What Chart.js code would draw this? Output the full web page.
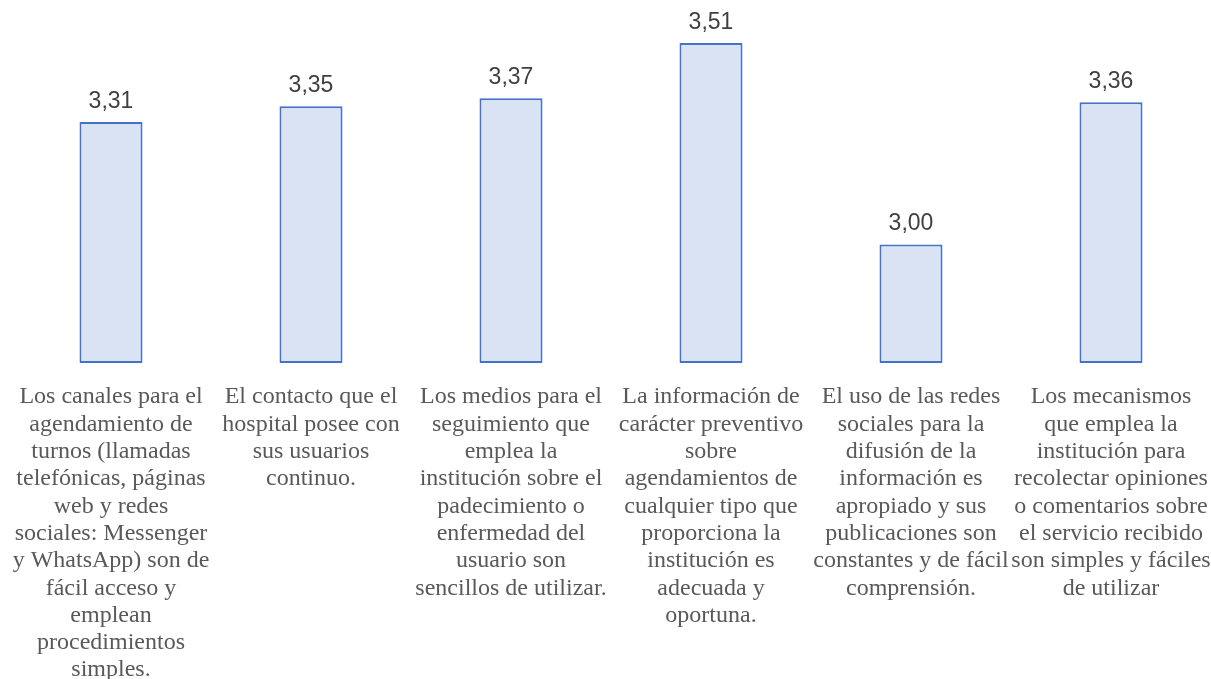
<!DOCTYPE html>
<html>
<head>
<meta charset="utf-8">
<script src="https://cdn.jsdelivr.net/npm/chart.js@4/dist/chart.umd.min.js"></script>
<style>
  html, body { margin: 0; padding: 0; background: #ffffff; }
  #wrap { width: 1211px; height: 679px; position: relative; }
</style>
</head>
<body>
<div id="wrap"><canvas id="chart"></canvas></div>
<script>
// Survey items (one wrapped label per bar)
const categories = [
  ["Los canales para el", "agendamiento de", "turnos (llamadas", "telefónicas, páginas", "web y redes", "sociales: Messenger", "y WhatsApp) son de", "fácil acceso y", "emplean", "procedimientos", "simples."],
  ["El contacto que el", "hospital posee con", "sus usuarios", "continuo."],
  ["Los medios para el", "seguimiento que", "emplea la", "institución sobre el", "padecimiento o", "enfermedad del", "usuario son", "sencillos de utilizar."],
  ["La información de", "carácter preventivo", "sobre", "agendamientos de", "cualquier tipo que", "proporciona la", "institución es", "adecuada y", "oportuna."],
  ["El uso de las redes", "sociales para la", "difusión de la", "información es", "apropiado y sus", "publicaciones son", "constantes y de fácil", "comprensión."],
  ["Los mecanismos", "que emplea la", "institución para", "recolectar opiniones", "o comentarios sobre", "el servicio recibido", "son simples y fáciles", "de utilizar"]
];

// Mean score per item
const scores = [3.31, 3.35, 3.37, 3.51, 3.00, 3.36];

// Value axis range (bars start at the axis minimum)
const axisMin = 2.7;
const axisMax = 3.6;

const formatScore = v => v.toFixed(2).replace('.', ',');

// Writes each bar's value above it
const valueLabels = {
  id: 'valueLabels',
  afterDatasetsDraw(chart) {
    const ctx = chart.ctx;
    const meta = chart.getDatasetMeta(0);
    ctx.save();
    ctx.font = '23px "Liberation Sans", Arial, sans-serif';
    ctx.fillStyle = '#404040';
    ctx.textAlign = 'center';
    ctx.textBaseline = 'middle';
    meta.data.forEach((bar, i) => {
      ctx.fillText(formatScore(chart.data.datasets[0].data[i]), bar.x, bar.y - 20.5);
    });
    ctx.restore();
  }
};

new Chart(document.getElementById('chart'), {
  type: 'bar',
  data: {
    labels: categories,
    datasets: [{
      data: scores,
      base: axisMin,
      backgroundColor: '#DAE3F3',
      borderColor: '#4472C4',
      borderWidth: 2,
      borderSkipped: false,
      clip: false,
      categoryPercentage: 1,
      barPercentage: 0.315
    }]
  },
  options: {
    responsive: true,
    maintainAspectRatio: false,
    animation: false,
    layout: { padding: { left: 11, right: 0, top: 7.5, bottom: 0 } },
    plugins: {
      legend: { display: false },
      tooltip: { enabled: false }
    },
    scales: {
      y: {
        display: false,
        min: axisMin,
        max: axisMax
      },
      x: {
        grid: { display: false, drawTicks: false },
        border: { display: false },
        afterFit(scale) {
          // fixed label band height, no extra side padding
          scale.height = 316;
          scale.paddingLeft = 0;
          scale.paddingRight = 0;
        },
        ticks: {
          autoSkip: false,
          maxRotation: 0,
          minRotation: 0,
          padding: 20.5,
          color: '#595959',
          font: { family: '"Liberation Serif", "Times New Roman", serif', size: 24, lineHeight: '27.3px' }
        }
      }
    }
  },
  plugins: [valueLabels]
});
</script>
</body>
</html>
